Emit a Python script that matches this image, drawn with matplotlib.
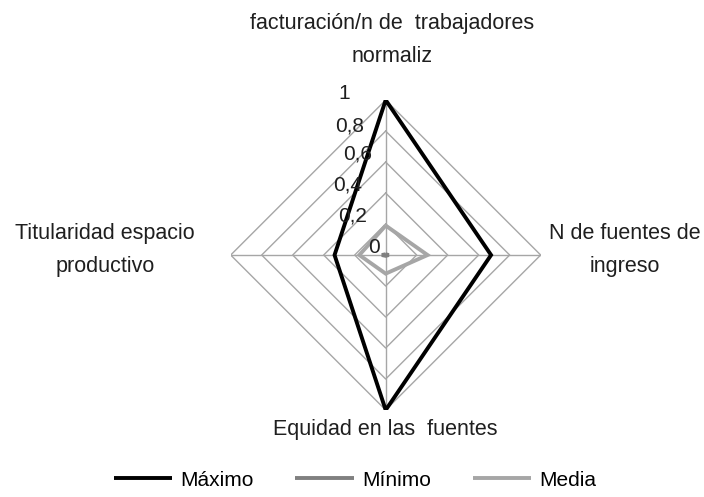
import numpy as np
import matplotlib
matplotlib.use("Agg")
from matplotlib import pyplot as plt
from matplotlib import font_manager

# data
categories = ["facturación/n de  trabajadores\nnormaliz",
              "N de fuentes de\ningreso",
              "Equidad en las  fuentes",
              "Titularidad espacio\nproductivo"]
maximo = [1.0, 0.68, 1.0, 0.33]
minimo = [0.005, 0.02, 0.005, 0.025]
media = [0.19, 0.27, 0.12, 0.17]
levels = [0.2, 0.4, 0.6, 0.8, 1.0]
level_labels = ["0", "0,2", "0,4", "0,6", "0,8", "1"]

names = [f.name for f in font_manager.fontManager.ttflist]
fam = "Liberation Sans Narrow" if "Liberation Sans Narrow" in names else "Liberation Sans"
plt.rcParams['font.family'] = [fam, 'DejaVu Sans']

angles = np.arange(len(categories)) * 2 * np.pi / len(categories)


def to_xy(vals):
    v = np.array(list(vals) + [vals[0]])
    a = np.append(angles, angles[0])
    return v * np.sin(a), v * np.cos(a)


fig = plt.figure(figsize=(7.04, 4.97), dpi=100)
ax = fig.add_axes([0.3277, 0.175, 0.4403, 0.6237])
ax.set_xlim(-1, 1)
ax.set_ylim(-1, 1)
ax.axis('off')

# grid
for lv in levels:
    gx, gy = to_xy([lv] * len(categories))
    ax.plot(gx, gy, color='#a6a6a6', lw=1.0, zorder=1)
for a in angles:
    ax.plot([0, np.sin(a)], [0, np.cos(a)], color='#a6a6a6', lw=1.0, zorder=1)

# series
lines = []
for vals, col, lw, lab in [(maximo, '#000000', 2.8, 'Máximo'),
                           (minimo, '#808080', 2.8, 'Mínimo'),
                           (media, '#a6a6a6', 2.8, 'Media')]:
    sx, sy = to_xy(vals)
    l, = ax.plot(sx, sy, color=col, lw=lw, zorder=3, label=lab,
                 solid_joinstyle='miter', solid_capstyle='butt')
    lines.append(l)

# radial tick labels
tick_pos = [0.05, 0.25, 0.45, 0.65, 0.83, 1.04]
tick_dx = [-0.04, -0.12, -0.15, -0.09, -0.14, -0.23]
for lab, p, dx in zip(level_labels, tick_pos, tick_dx):
    ax.text(dx, p, lab, ha='right', va='center', fontsize=15, color='#1f1f1f')

# category labels
fig.text(392 / 704, 1 - 40 / 497, categories[0], ha='center', va='center',
         fontsize=15.5, color='#1f1f1f', linespacing=1.7)
fig.text(625 / 704, 1 - 250 / 497, categories[1], ha='center', va='center',
         fontsize=15.5, color='#1f1f1f', linespacing=1.7)
fig.text(385 / 704, 1 - 430 / 497, categories[2], ha='center', va='center',
         fontsize=15.5, color='#1f1f1f')
fig.text(105 / 704, 1 - 250 / 497, categories[3], ha='center', va='center',
         fontsize=15.5, color='#1f1f1f', linespacing=1.7)

fig.legend(handles=lines, loc='center', bbox_to_anchor=(355 / 704, 1 - 480 / 497),
           ncol=3, frameon=False, fontsize=15, handlelength=2.8,
           handletextpad=0.4, columnspacing=2.0)

fig.savefig('out.png', dpi=100, facecolor='white')
